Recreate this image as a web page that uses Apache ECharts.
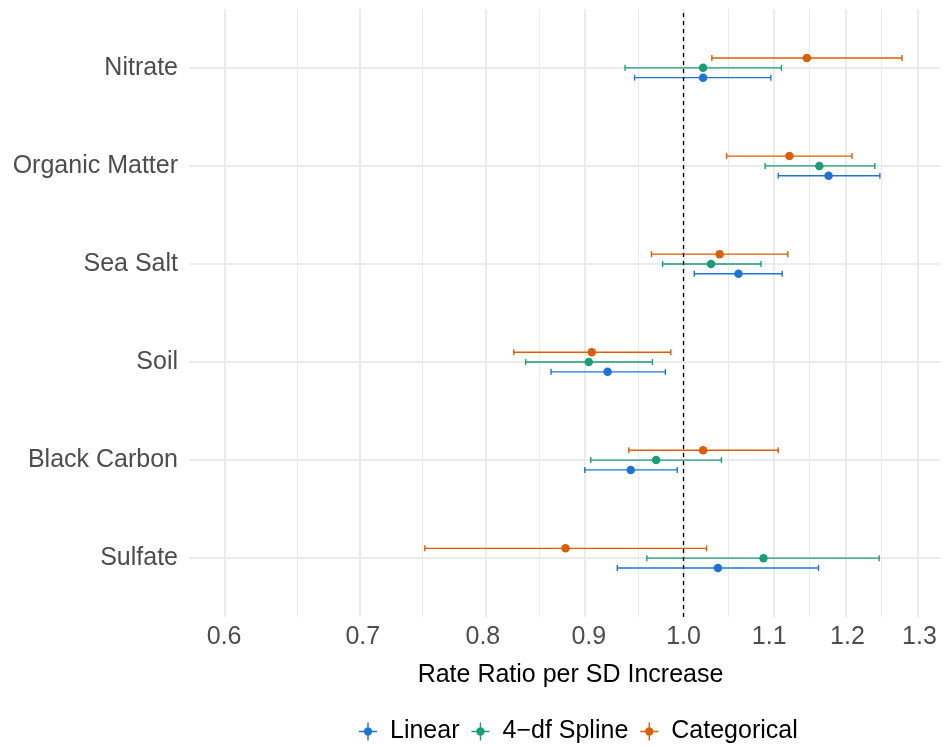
<!DOCTYPE html>
<html>
<head>
    <meta charset="utf-8">
    <title>Rate Ratio per SD Increase</title>
    <style>
        html,body{ margin:0; padding:0; background:#fff; }
    </style>
</head>
<body>
<script src="https://cdn.jsdelivr.net/npm/echarts@6/dist/echarts.min.js"></script>
<div id="main" style="width: 945px;height:746px;"></div>
<script type="text/javascript">
    // 成分（从下到上）
    var components = ['Sulfate', 'Black Carbon', 'Soil', 'Sea Salt', 'Organic Matter', 'Nitrate'];
    var models = ['Linear', '4\u2212df Spline', 'Categorical'];
    var colors = ['#1F74D1', '#1B9E77', '#D95F02'];
    var offsets = [-0.1, 0, 0.1];

    // 估计值与置信区间（顺序同 components）
    var linearEst   = [1.039, 0.943, 0.919, 1.063, 1.175, 1.022];
    var linearLow   = [0.929, 0.896, 0.863, 1.012, 1.111, 0.947];
    var linearHigh  = [1.162, 0.993, 0.980, 1.116, 1.244, 1.102];

    var splineEst   = [1.093, 0.970, 0.900, 1.031, 1.163, 1.022];
    var splineLow   = [0.960, 0.902, 0.839, 0.977, 1.095, 0.937];
    var splineHigh  = [1.243, 1.043, 0.966, 1.090, 1.237, 1.115];

    var catEst      = [0.877, 1.022, 0.903, 1.041, 1.125, 1.147];
    var catLow      = [0.750, 0.941, 0.828, 0.965, 1.049, 1.032];
    var catHigh     = [1.026, 1.111, 0.986, 1.123, 1.206, 1.275];

    // 刻度
    var majorTicks = [0.6, 0.7, 0.8, 0.9, 1.0, 1.1, 1.2, 1.3];
    var minorTicks = [0.65, 0.75, 0.85, 0.95, 1.05, 1.15, 1.25];

    var est  = [linearEst, splineEst, catEst];
    var low  = [linearLow, splineLow, catLow];
    var high = [linearHigh, splineHigh, catHigh];

    var ln = Math.log;
    var font = 'Liberation Sans, Arial, sans-serif';

    var myChart = echarts.init(document.getElementById('main'));

    function renderBar(params, api) {
        var y = api.value(2);
        var a = api.coord([api.value(0), y]);
        var b = api.coord([api.value(1), y]);
        var h = 3;
        var st = { stroke: api.visual('color'), lineWidth: 1.4 };
        return {
            type: 'group',
            children: [
                { type: 'line', shape: { x1: a[0], y1: a[1], x2: b[0], y2: b[1] }, style: st },
                { type: 'line', shape: { x1: a[0], y1: a[1] - h, x2: a[0], y2: a[1] + h }, style: st },
                { type: 'line', shape: { x1: b[0], y1: b[1] - h, x2: b[0], y2: b[1] + h }, style: st }
            ]
        };
    }

    // 网格线
    var gridX = [];
    majorTicks.forEach(function (t) {
        gridX.push({ xAxis: ln(t), lineStyle: { width: 2 } });
    });
    minorTicks.forEach(function (t) {
        gridX.push({ xAxis: ln(t), lineStyle: { width: 1 } });
    });
    var gridY = components.map(function (c, i) {
        return { yAxis: i + 1, lineStyle: { width: 2 } };
    });

    var series = [{
        type: 'scatter',
        data: [],
        z: 0,
        silent: true,
        markLine: {
            z: 0,
            silent: true,
            symbol: 'none',
            label: { show: false },
            animation: false,
            lineStyle: { color: '#EBEBEB', type: 'solid' },
            data: gridX.concat(gridY)
        }
    }, {
        type: 'scatter',
        data: [],
        z: 3,
        silent: true,
        markLine: {
            z: 3,
            silent: true,
            symbol: 'none',
            label: { show: false },
            animation: false,
            lineStyle: { color: '#000', type: [4, 4], width: 1.3 },
            data: [{ xAxis: 0 }]
        }
    }];

    models.forEach(function (m, k) {
        series.push({
            name: m,
            type: 'custom',
            z: 2,
            itemStyle: { color: colors[k] },
            renderItem: renderBar,
            encode: { x: [0, 1], y: 2 },
            data: components.map(function (c, i) {
                return [ln(low[k][i]), ln(high[k][i]), i + 1 + offsets[k]];
            })
        });
        series.push({
            name: m,
            type: 'scatter',
            z: 4,
            symbol: 'circle',
            symbolSize: 8.5,
            itemStyle: { color: colors[k], opacity: 1 },
            data: components.map(function (c, i) {
                return [ln(est[k][i]), i + 1 + offsets[k]];
            })
        });
    });

    var icon = 'path://M1,9.3H19V10.7H1Z M9.3,1H10.7V19H9.3Z M14.2,10A4.2,4.2 0 1,1 5.8,10A4.2,4.2 0 1,1 14.2,10Z';

    myChart.setOption({
        animation: false,
        textStyle: { fontFamily: font },
        grid: { left: 189, right: 5, top: 9, bottom: 129, containLabel: false },
        xAxis: {
            type: 'value',
            min: ln(0.577),
            max: ln(1.330),
            name: 'Rate Ratio per SD Increase',
            nameLocation: 'middle',
            nameGap: 46,
            nameTextStyle: { color: '#000', fontSize: 25, fontFamily: font, padding: [0, 0, 0, 12] },
            axisLine: { show: false },
            axisTick: { show: false },
            splitLine: { show: false },
            axisLabel: {
                customValues: majorTicks.map(ln),
                margin: 8,
                color: '#4D4D4D',
                fontSize: 25,
                fontFamily: font,
                formatter: function (v) { return Math.exp(v).toFixed(1); }
            }
        },
        yAxis: {
            type: 'value',
            min: 0.4,
            max: 6.6,
            axisLine: { show: false },
            axisTick: { show: false },
            splitLine: { show: false },
            axisLabel: {
                customValues: [1, 2, 3, 4, 5, 6],
                margin: 11,
                color: '#4D4D4D',
                fontSize: 25,
                fontFamily: font,
                formatter: function (v) { return components[Math.round(v) - 1]; }
            }
        },
        legend: {
            data: models.map(function (m, k) {
                return { name: m, icon: icon, itemStyle: { color: colors[k] } };
            }),
            left: 354,
            top: 714,
            itemWidth: 18,
            itemHeight: 18,
            itemGap: 12,
            textStyle: { color: '#000', fontSize: 25, fontFamily: font, padding: [0, 0, 0, 8] }
        },
        series: series
    });
</script>
</body>
</html>
